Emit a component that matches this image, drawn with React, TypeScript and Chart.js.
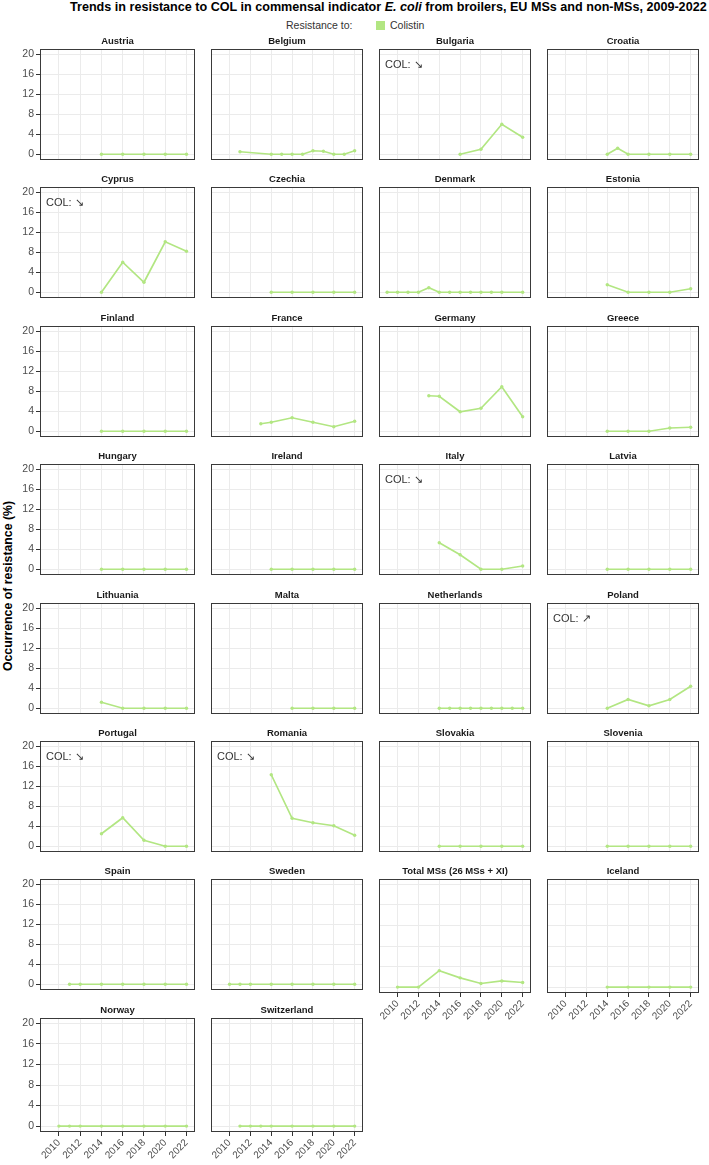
import React, { useEffect, useRef } from 'react';
import { Chart, registerables } from 'chart.js';

Chart.register(...registerables);

const FONT = '"Liberation Sans", Arial, Helvetica, sans-serif';
const LINE_COLOR = '#b2e682';

// ---------------- Data ----------------
const xTickYears = [2010, 2012, 2014, 2016, 2018, 2020, 2022];
const yTickValues = [0, 4, 8, 12, 16, 20];

const austriaYears = [2014, 2016, 2018, 2020, 2022];
const austriaCOL = [0, 0, 0, 0, 0];
const belgiumYears = [2011, 2014, 2015, 2016, 2017, 2018, 2019, 2020, 2021, 2022];
const belgiumCOL = [0.5, 0, 0, 0, 0, 0.7, 0.6, 0, 0, 0.7];
const bulgariaYears = [2016, 2018, 2020, 2022];
const bulgariaCOL = [0, 1.0, 6.0, 3.4];
const croatiaYears = [2014, 2015, 2016, 2018, 2020, 2022];
const croatiaCOL = [0, 1.2, 0, 0, 0, 0];
const cyprusYears = [2014, 2016, 2018, 2020, 2022];
const cyprusCOL = [0, 6.0, 2.0, 10.1, 8.2];
const czechiaYears = [2014, 2016, 2018, 2020, 2022];
const czechiaCOL = [0, 0, 0, 0, 0];
const denmarkYears = [2009, 2010, 2011, 2012, 2013, 2014, 2015, 2016, 2017, 2018, 2019, 2020, 2022];
const denmarkCOL = [0, 0, 0, 0, 0.9, 0, 0, 0, 0, 0, 0, 0, 0];
const estoniaYears = [2014, 2016, 2018, 2020, 2022];
const estoniaCOL = [1.5, 0, 0, 0, 0.7];
const finlandYears = [2014, 2016, 2018, 2020, 2022];
const finlandCOL = [0, 0, 0, 0, 0];
const franceYears = [2013, 2014, 2016, 2018, 2020, 2022];
const franceCOL = [1.5, 1.8, 2.7, 1.8, 0.9, 2.0];
const germanyYears = [2013, 2014, 2016, 2018, 2020, 2022];
const germanyCOL = [7.1, 7.0, 3.9, 4.6, 8.9, 2.9];
const greeceYears = [2014, 2016, 2018, 2020, 2022];
const greeceCOL = [0, 0, 0, 0.65, 0.8];
const hungaryYears = [2014, 2016, 2018, 2020, 2022];
const hungaryCOL = [0, 0, 0, 0, 0];
const irelandYears = [2014, 2016, 2018, 2020, 2022];
const irelandCOL = [0, 0, 0, 0, 0];
const italyYears = [2014, 2016, 2018, 2020, 2022];
const italyCOL = [5.3, 2.9, 0, 0, 0.65];
const latviaYears = [2014, 2016, 2018, 2020, 2022];
const latviaCOL = [0, 0, 0, 0, 0];
const lithuaniaYears = [2014, 2016, 2018, 2020, 2022];
const lithuaniaCOL = [1.2, 0, 0, 0, 0];
const maltaYears = [2016, 2018, 2020, 2022];
const maltaCOL = [0, 0, 0, 0];
const netherlandsYears = [2014, 2015, 2016, 2017, 2018, 2019, 2020, 2021, 2022];
const netherlandsCOL = [0, 0, 0, 0, 0, 0, 0, 0, 0];
const polandYears = [2014, 2016, 2018, 2020, 2022];
const polandCOL = [0, 1.75, 0.5, 1.75, 4.4];
const portugalYears = [2014, 2016, 2018, 2020, 2022];
const portugalCOL = [2.5, 5.7, 1.2, 0, 0];
const romaniaYears = [2014, 2016, 2018, 2020, 2022];
const romaniaCOL = [14.3, 5.6, 4.7, 4.1, 2.2];
const slovakiaYears = [2014, 2016, 2018, 2020, 2022];
const slovakiaCOL = [0, 0, 0, 0, 0];
const sloveniaYears = [2014, 2016, 2018, 2020, 2022];
const sloveniaCOL = [0, 0, 0, 0, 0];
const spainYears = [2011, 2012, 2014, 2016, 2018, 2020, 2022];
const spainCOL = [0, 0, 0, 0, 0, 0, 0];
const swedenYears = [2010, 2011, 2012, 2014, 2016, 2018, 2020, 2022];
const swedenCOL = [0, 0, 0, 0, 0, 0, 0, 0];
const totalYears = [2010, 2012, 2014, 2016, 2018, 2020, 2022];
const totalCOL = [0, 0, 3.2, 1.8, 0.7, 1.2, 0.9];
const icelandYears = [2014, 2016, 2018, 2020, 2022];
const icelandCOL = [0, 0, 0, 0, 0];
const norwayYears = [2010, 2011, 2012, 2014, 2016, 2018, 2020, 2022];
const norwayCOL = [0, 0, 0, 0, 0, 0, 0, 0];
const switzerlandYears = [2011, 2012, 2013, 2014, 2016, 2018, 2020, 2022];
const switzerlandCOL = [0, 0, 0, 0, 0, 0, 0, 0];

const decreasingTrend = ['Bulgaria', 'Cyprus', 'Italy', 'Portugal', 'Romania'];
const increasingTrend = ['Poland'];
const xAxisPanels = ['Total MSs (26 MSs + XI)', 'Iceland', 'Norway', 'Switzerland'];

type PanelDef = { name: string; years: number[]; values: number[] };

const panels: PanelDef[] = [
  { name: 'Austria', years: austriaYears, values: austriaCOL },
  { name: 'Belgium', years: belgiumYears, values: belgiumCOL },
  { name: 'Bulgaria', years: bulgariaYears, values: bulgariaCOL },
  { name: 'Croatia', years: croatiaYears, values: croatiaCOL },
  { name: 'Cyprus', years: cyprusYears, values: cyprusCOL },
  { name: 'Czechia', years: czechiaYears, values: czechiaCOL },
  { name: 'Denmark', years: denmarkYears, values: denmarkCOL },
  { name: 'Estonia', years: estoniaYears, values: estoniaCOL },
  { name: 'Finland', years: finlandYears, values: finlandCOL },
  { name: 'France', years: franceYears, values: franceCOL },
  { name: 'Germany', years: germanyYears, values: germanyCOL },
  { name: 'Greece', years: greeceYears, values: greeceCOL },
  { name: 'Hungary', years: hungaryYears, values: hungaryCOL },
  { name: 'Ireland', years: irelandYears, values: irelandCOL },
  { name: 'Italy', years: italyYears, values: italyCOL },
  { name: 'Latvia', years: latviaYears, values: latviaCOL },
  { name: 'Lithuania', years: lithuaniaYears, values: lithuaniaCOL },
  { name: 'Malta', years: maltaYears, values: maltaCOL },
  { name: 'Netherlands', years: netherlandsYears, values: netherlandsCOL },
  { name: 'Poland', years: polandYears, values: polandCOL },
  { name: 'Portugal', years: portugalYears, values: portugalCOL },
  { name: 'Romania', years: romaniaYears, values: romaniaCOL },
  { name: 'Slovakia', years: slovakiaYears, values: slovakiaCOL },
  { name: 'Slovenia', years: sloveniaYears, values: sloveniaCOL },
  { name: 'Spain', years: spainYears, values: spainCOL },
  { name: 'Sweden', years: swedenYears, values: swedenCOL },
  { name: 'Total MSs (26 MSs + XI)', years: totalYears, values: totalCOL },
  { name: 'Iceland', years: icelandYears, values: icelandCOL },
  { name: 'Norway', years: norwayYears, values: norwayCOL },
  { name: 'Switzerland', years: switzerlandYears, values: switzerlandCOL },
];

// ---------------- Layout ----------------
const COL_LEFT = [40, 208, 376, 544];
const ROW_TOP = [49, 187, 326, 464, 603, 741, 879, 1018];
const BOX_W = 158;
const BOX_H = 114;
const TITLE_H = 14;
const Y_AXIS_W = 40;
const X_AXIS_H = 36;

const zeroPad = (s: any) => {
  s.paddingTop = 0;
  s.paddingBottom = 0;
  s.paddingLeft = 0;
  s.paddingRight = 0;
};

const boxPlugin = {
  id: 'panelBox',
  afterDraw(chart: any, _args: any, opts: any) {
    const { ctx, chartArea } = chart;
    ctx.save();
    if (opts && opts.trend) {
      ctx.font = `11px ${FONT}`;
      ctx.fillStyle = '#333333';
      ctx.textAlign = 'left';
      ctx.textBaseline = 'middle';
      ctx.fillText(opts.trend, chartArea.left + 6, chartArea.top + 16);
    }
    ctx.strokeStyle = '#3a3a3a';
    ctx.lineWidth = 1;
    ctx.strokeRect(
      chartArea.left + 0.5,
      chartArea.top + 0.5,
      chartArea.right - chartArea.left - 1,
      chartArea.bottom - chartArea.top - 1
    );
    ctx.restore();
  },
};

function Panel({ def, idx }: { def: PanelDef; idx: number }) {
  const ref = useRef<HTMLCanvasElement>(null);
  const row = Math.floor(idx / 4);
  const col = idx % 4;
  const showY = col === 0;
  const showX = xAxisPanels.includes(def.name);
  const leftW = showY ? Y_AXIS_W : 1;
  const bottomH = showX ? X_AXIS_H : 1;
  const width = leftW + BOX_W + 1;
  const height = TITLE_H + BOX_H + bottomH;
  const left = COL_LEFT[col] - leftW;
  const top = ROW_TOP[row] - TITLE_H;
  const trend = decreasingTrend.includes(def.name)
    ? 'COL: \u2198'
    : increasingTrend.includes(def.name)
    ? 'COL: \u2197'
    : '';

  useEffect(() => {
    if (!ref.current) return;
    const chart = new Chart(ref.current, {
      type: 'line',
      data: {
        datasets: [
          {
            label: 'Colistin',
            data: def.years.map((y, i) => ({ x: y, y: def.values[i] })),
            borderColor: LINE_COLOR,
            backgroundColor: LINE_COLOR,
            pointBackgroundColor: LINE_COLOR,
            pointBorderWidth: 0,
            pointRadius: 1.7,
            borderWidth: 1.7,
            tension: 0,
            fill: false,
          },
        ],
      },
      options: {
        animation: false,
        responsive: false,
        devicePixelRatio: 1,
        events: [],
        layout: {
          padding: { left: showY ? 0 : 1, right: 1, top: 0, bottom: showX ? 0 : 1 },
        },
        plugins: {
          legend: { display: false },
          tooltip: { enabled: false },
          title: {
            display: true,
            text: def.name,
            fullSize: false,
            color: '#1a1a1a',
            font: { family: FONT, size: 9.5, weight: 'bold', lineHeight: '11px' },
            padding: { top: 1, bottom: 2 },
          },
          panelBox: { trend },
        } as any,
        scales: {
          x: {
            type: 'linear',
            min: 2008.22,
            max: 2022.8,
            afterBuildTicks: (s: any) => {
              s.ticks = xTickYears.map((v) => ({ value: v }));
            },
            afterFit: (s: any) => {
              s.height = showX ? X_AXIS_H : 0;
              zeroPad(s);
            },
            ticks: {
              display: showX,
              autoSkip: false,
              maxRotation: 45,
              minRotation: 45,
              padding: 1,
              color: '#4d4d4d',
              font: { family: FONT, size: 10 },
              callback: (v: any) => String(v),
            },
            grid: {
              color: '#ebebeb',
              lineWidth: 1,
              drawTicks: showX,
              tickLength: 4,
              tickColor: '#333333',
            },
            border: { display: false },
          },
          y: {
            type: 'linear',
            min: -1.15,
            max: 21.05,
            afterBuildTicks: (s: any) => {
              s.ticks = yTickValues.map((v) => ({ value: v }));
            },
            afterFit: (s: any) => {
              s.width = showY ? Y_AXIS_W : 0;
              zeroPad(s);
            },
            ticks: {
              display: showY,
              padding: 2,
              color: '#4d4d4d',
              font: { family: FONT, size: 10.5 },
              callback: (v: any) => String(v),
            },
            grid: {
              color: '#ebebeb',
              lineWidth: 1,
              drawTicks: showY,
              tickLength: 4,
              tickColor: '#333333',
            },
            border: { display: false },
          },
        },
      } as any,
      plugins: [boxPlugin],
    });
    return () => chart.destroy();
  }, []);

  return (
    <canvas
      ref={ref}
      width={width}
      height={height}
      style={{ position: 'absolute', left, top, width, height }}
    />
  );
}

export default function App() {
  return (
    <div
      style={{
        position: 'absolute',
        left: 0,
        top: 0,
        width: 709,
        height: 1165,
        background: '#ffffff',
        fontFamily: FONT,
        overflow: 'hidden',
      }}
    >
      <div
        style={{
          position: 'absolute',
          left: 70,
          top: 0,
          whiteSpace: 'nowrap',
          fontSize: 12.6,
          lineHeight: '15px',
          fontWeight: 'bold',
          color: '#000000',
        }}
      >
        Trends in resistance to COL in commensal indicator <i>E. coli</i> from broilers, EU MSs and
        non-MSs, 2009-2022
      </div>
      <div
        style={{
          position: 'absolute',
          left: 286,
          top: 19,
          whiteSpace: 'nowrap',
          fontSize: 10.5,
          lineHeight: '12px',
          color: '#333333',
        }}
      >
        Resistance to:
      </div>
      <div
        style={{
          position: 'absolute',
          left: 376,
          top: 21,
          width: 9,
          height: 9,
          background: LINE_COLOR,
        }}
      />
      <div
        style={{
          position: 'absolute',
          left: 390,
          top: 19,
          whiteSpace: 'nowrap',
          fontSize: 10.5,
          lineHeight: '12px',
          color: '#333333',
        }}
      >
        Colistin
      </div>
      <div
        style={{
          position: 'absolute',
          left: 8,
          top: 586,
          whiteSpace: 'nowrap',
          fontSize: 12.3,
          fontWeight: 'bold',
          color: '#000000',
          transform: 'translate(-50%, -50%) rotate(-90deg)',
        }}
      >
        Occurrence of resistance (%)
      </div>
      {panels.map((p, i) => (
        <Panel key={p.name} def={p} idx={i} />
      ))}
    </div>
  );
}
